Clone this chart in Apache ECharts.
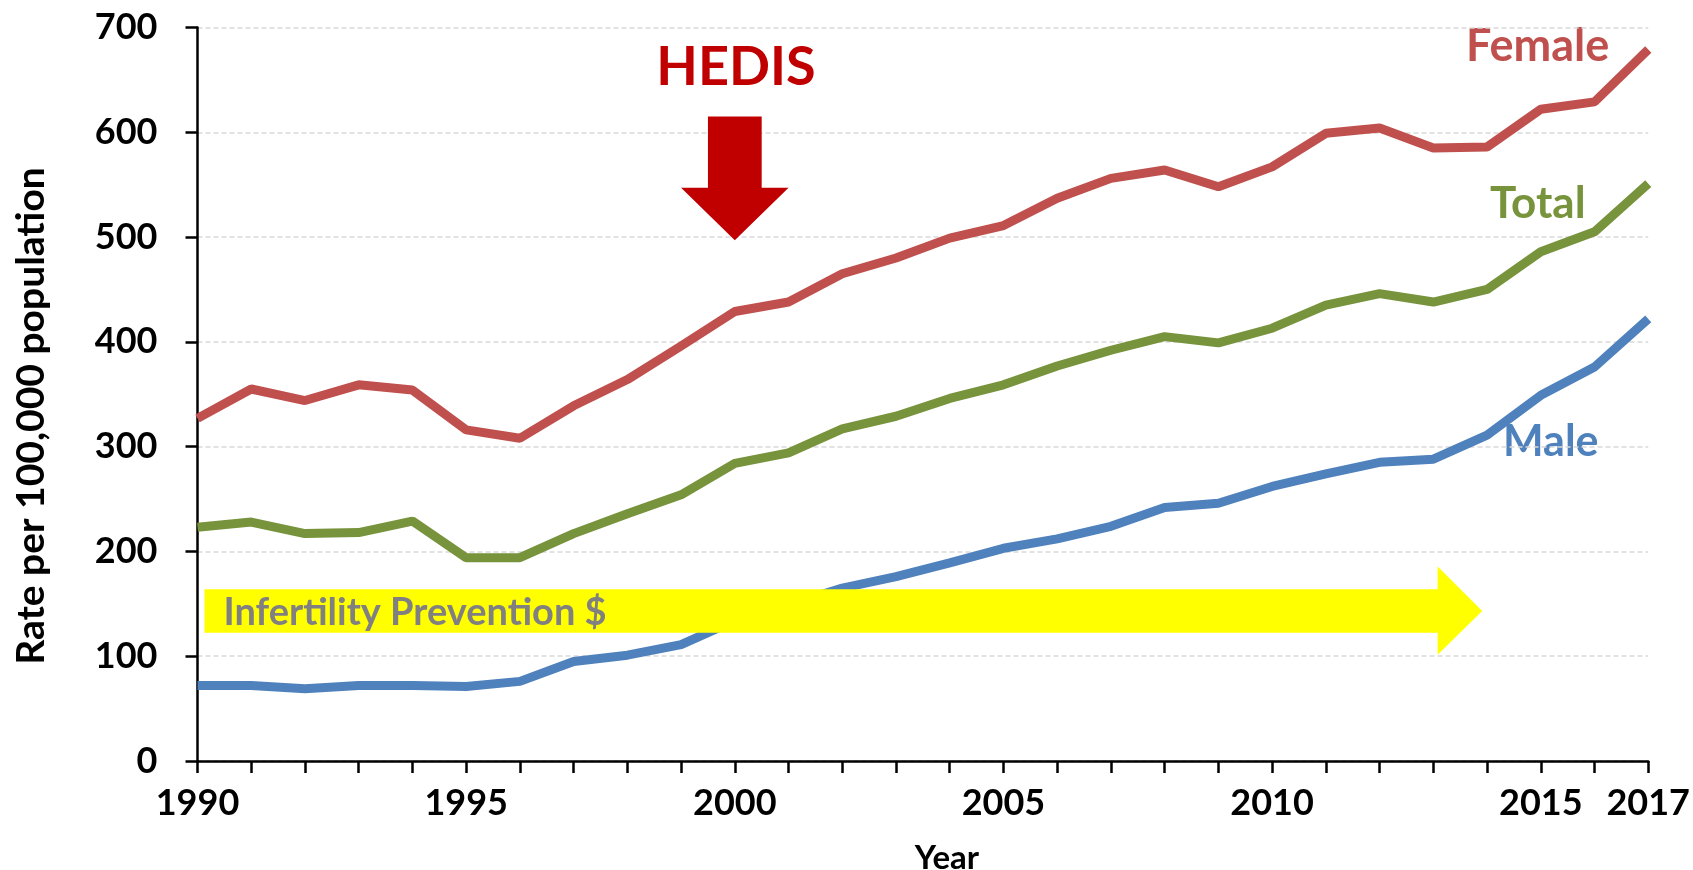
<!DOCTYPE html>
<html><head><meta charset="utf-8">
<script src="https://cdn.jsdelivr.net/npm/echarts@6/dist/echarts.min.js"></script>
<style>html,body{margin:0;padding:0;background:#fff}#c{width:1693px;height:870px}</style>
</head><body><div id="c"></div>
<script>
// ---- data ----
const years = [1990,1991,1992,1993,1994,1995,1996,1997,1998,1999,2000,2001,2002,2003,2004,2005,2006,2007,2008,2009,2010,2011,2012,2013,2014,2015,2016,2017];
const female = [327,355,344,359,354,316,308,339,364,396,429,438,465,480,499,511,537,556,564,548,567,599,604,585,586,622,629,679];
const total  = [223,228,217,218,229,194,194,217,236,254,284,294,317,329,346,359,377,392,405,399,413,435,446,438,450,486,505,551];
const male   = [72,72,69,72,72,71,76,95,101,111,134,149,165,176,189,203,212,224,242,246,262,274,285,288,311,349,376,422];
const xTickLabels = [1990,1995,2000,2005,2010,2015,2017];
const seriesNames = ['Female','Total','Male'];
const yAxisTitle = 'Rate per 100,000 population';
const xAxisTitle = 'Year';
const hedisText = 'HEDIS';
const fundingText = 'Infertility Prevention $';

// annotation geometry in data units (year, rate)
const hedisArrow = {x:2000, tipY:497, headY:547, topY:615, shaftHalf:0.5, headHalf:1.0};
const fundArrow = {x0:1990.13, bodyTop:164, bodyBottom:122.5, headX:2013.08, headTop:185.5, headBottom:101.5, tipX:2013.91};

const FONT = 'Lato';
const colors = {Female:'#C0504D', Total:'#77933C', Male:'#4F81BD'};
const pairs = vals => years.map((y,i)=>[y, vals[i]]);

const chart = echarts.init(document.getElementById('c'), null, {renderer:'canvas'});
const axisLineStyle = {color:'#000', width:2.5};
const option = {
  animation:false,
  backgroundColor:'#fff',
  grid:{left:197.5, right:39, top:27.5, bottom:109, containLabel:false},
  xAxis:{
    type:'value', min:1990, max:2017, interval:1,
    axisLine:{show:true, onZero:false, lineStyle:axisLineStyle},
    axisTick:{show:true, length:12, lineStyle:axisLineStyle},
    splitLine:{show:false},
    axisLabel:{margin:24, fontFamily:FONT, fontSize:36, fontWeight:'bold', color:'#000',
      showMinLabel:true, showMaxLabel:true, hideOverlap:false,
      formatter: v => xTickLabels.indexOf(v) >= 0 ? String(v) : ''}
  },
  yAxis:{
    type:'value', min:0, max:700, interval:100,
    axisLine:{show:true, lineStyle:axisLineStyle},
    axisTick:{show:true, length:12, lineStyle:axisLineStyle},
    splitLine:{show:true, lineStyle:{color:'#D9D9D9', width:1.5, type:[5,3]}},
    axisLabel:{margin:40, fontFamily:FONT, fontSize:36, fontWeight:'bold', color:'#000'}
  },
  series:[
    {name:'Female', type:'line', data:pairs(female), showSymbol:false, lineStyle:{width:9, color:colors.Female}, itemStyle:{color:colors.Female}, z:2},
    {name:'Total', type:'line', data:pairs(total), showSymbol:false, lineStyle:{width:9, color:colors.Total}, itemStyle:{color:colors.Total}, z:2},
    {name:'Male', type:'line', data:pairs(male), showSymbol:false, lineStyle:{width:9, color:colors.Male}, itemStyle:{color:colors.Male}, z:2},
    {type:'custom', z:5, silent:true, data:[[1990,0]],
      renderItem:(params, api)=>{
        const P = (x,y)=>api.coord([x,y]);
        const h = hedisArrow, f = fundArrow;
        const hPts = [P(h.x-h.shaftHalf,h.topY),P(h.x+h.shaftHalf,h.topY),P(h.x+h.shaftHalf,h.headY),P(h.x+h.headHalf,h.headY),P(h.x,h.tipY),P(h.x-h.headHalf,h.headY),P(h.x-h.shaftHalf,h.headY)];
        const fPts = [P(f.x0,f.bodyTop),P(f.headX,f.bodyTop),P(f.headX,f.headTop),P(f.tipX,(f.bodyTop+f.bodyBottom)/2),P(f.headX,f.headBottom),P(f.headX,f.bodyBottom),P(f.x0,f.bodyBottom)];
        const start = P(f.x0,(f.bodyTop+f.bodyBottom)/2);
        return {type:'group', children:[
          {type:'polygon', shape:{points:hPts}, style:{fill:'#C00000'}},
          {type:'polygon', shape:{points:fPts}, style:{fill:'#FFFF00'}},
          {type:'text', x:start[0]+19, y:start[1]+2, style:{text:fundingText, fill:'#808080', font:'bold 38px '+FONT, align:'left', verticalAlign:'middle'}}
        ]};
      }
    }
  ],
  graphic:[
    {type:'text', x:31, y:416, rotation:Math.PI/2, style:{text:yAxisTitle, fill:'#000', font:'bold 39px '+FONT, align:'center', verticalAlign:'middle'}},
    {type:'text', x:947, y:858, style:{text:xAxisTitle, fill:'#000', font:'bold 33px '+FONT, align:'center', verticalAlign:'middle'}},
    {type:'text', x:736, y:68, style:{text:hedisText, fill:'#C00000', font:'bold 54px '+FONT, align:'center', verticalAlign:'middle'}},
    {type:'text', x:1466, y:46, style:{text:seriesNames[0], fill:colors.Female, font:'bold 45px '+FONT, align:'left', verticalAlign:'middle'}},
    {type:'text', x:1490, y:204, style:{text:seriesNames[1], fill:colors.Total, font:'bold 44px '+FONT, align:'left', verticalAlign:'middle'}},
    {type:'text', x:1503, y:442, style:{text:seriesNames[2], fill:colors.Male, font:'bold 43px '+FONT, align:'left', verticalAlign:'middle'}}
  ]
};
chart.setOption(option);
</script></body></html>
